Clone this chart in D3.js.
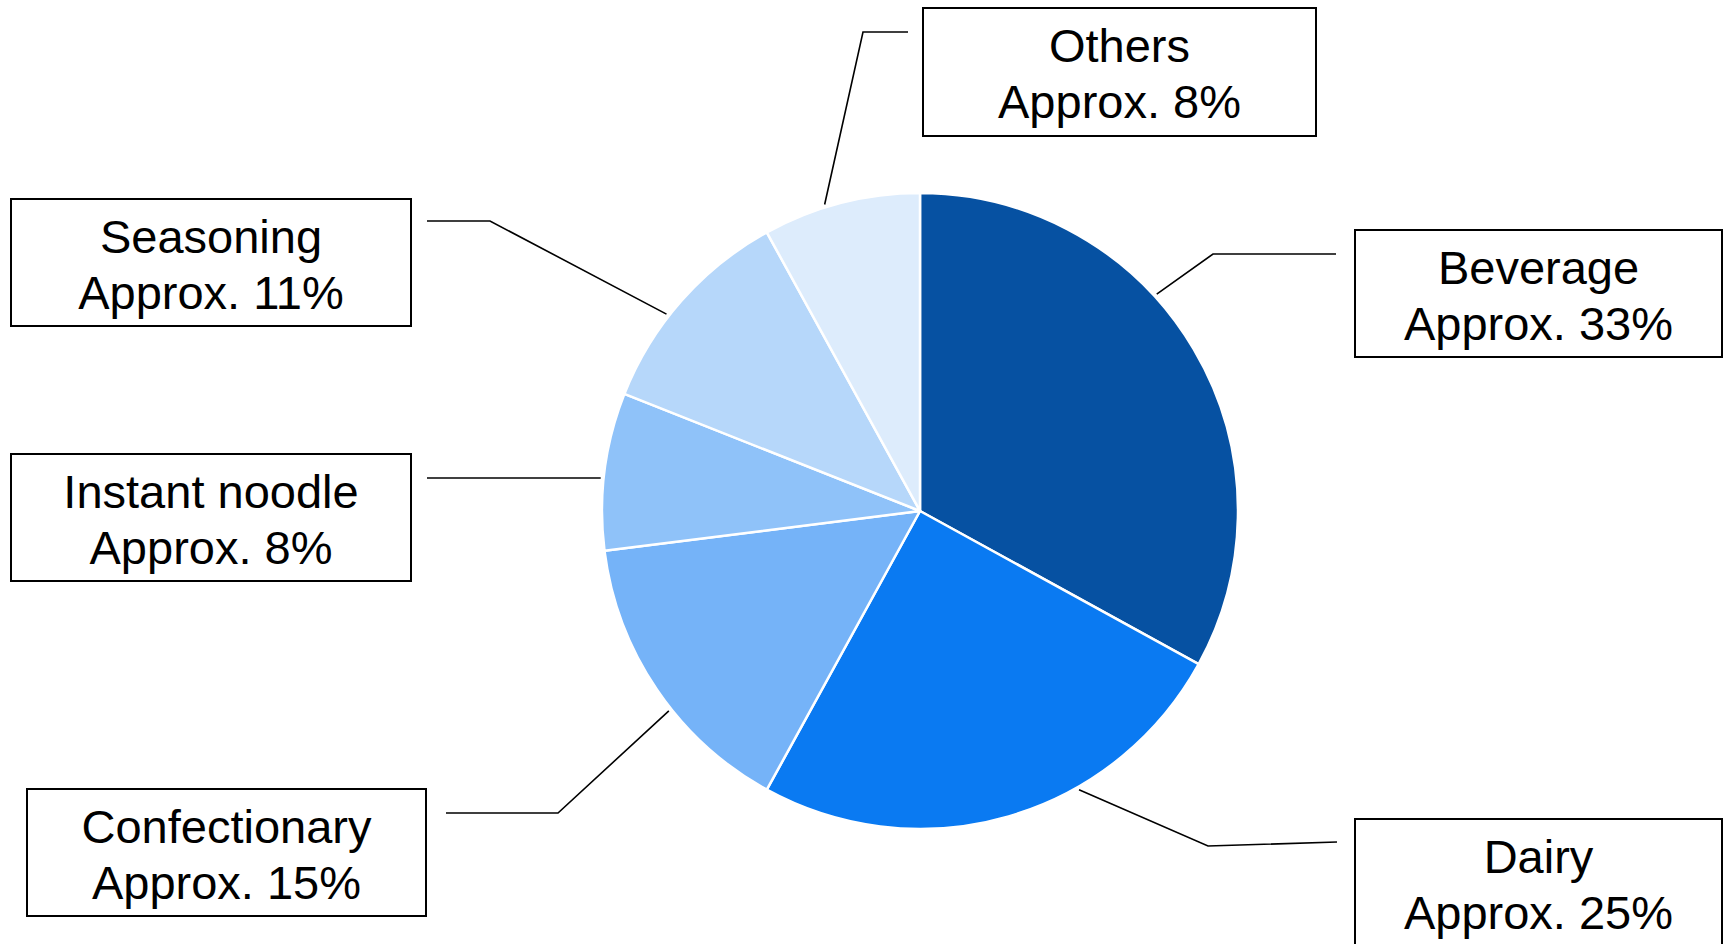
<!DOCTYPE html>
<html>
<head>
<meta charset="utf-8">
<title>Sales composition by category</title>
<script src="https://cdn.jsdelivr.net/npm/d3@7"></script>
<style>
  html, body { margin: 0; padding: 0; background: #ffffff; overflow: hidden; }
  svg { display: block; }
  text { font-family: "Liberation Sans", Arial, sans-serif; }
</style>
</head>
<body>
<svg id="chart" width="1723" height="944"></svg>
<script>
// Category shares (percent), clockwise from 12 o'clock
const categories = ["Beverage", "Dairy", "Confectionary", "Instant noodle", "Seasoning", "Others"];
const shares = [33, 25, 15, 8, 11, 8];
const shareLabels = ["Approx. 33%", "Approx. 25%", "Approx. 15%", "Approx. 8%", "Approx. 11%", "Approx. 8%"];
const sliceColors = ["#0651a2", "#0a7af2", "#75b3f8", "#8fc2f9", "#b6d7fa", "#ddecfc"];

// Callout boxes: box rectangle, leader elbow and end, and where along the slice the leader attaches
const callouts = [
  { box: [1355, 230, 367, 127], elbow: [1213, 254], end: [1336, 254], along: 0.40 },
  { box: [1355, 819, 367, 140], elbow: [1208, 846], end: [1337, 842], along: 0.35 },
  { box: [27, 789, 399, 127],   elbow: [558, 813],  end: [446, 813],  along: 0.42 },
  { box: [11, 454, 400, 127],   elbow: null,        end: [427, 478],  along: 0.455 },
  { box: [11, 199, 400, 127],   elbow: [490, 221],  end: [427, 221],  along: 0.41 },
  { box: [923, 8, 393, 128],    elbow: [863, 32],   end: [908, 32],   along: 0.40 }
];

const cx = 920, cy = 511, radius = 318;
const svg = d3.select("#chart");

const data = categories.map((name, i) => ({ name, value: shares[i], label: shareLabels[i], i }));

const pie = d3.pie().value(d => d.value).sort(null).startAngle(0).endAngle(2 * Math.PI);
const arcs = pie(data);
const arc = d3.arc().innerRadius(0).outerRadius(radius);
const color = d3.scaleOrdinal().domain(categories).range(sliceColors);

const g = svg.append("g").attr("transform", `translate(${cx},${cy})`);
g.selectAll("path.slice")
  .data(arcs)
  .join("path")
  .attr("class", "slice")
  .attr("d", arc)
  .attr("fill", d => color(d.data.name))
  .attr("stroke", "#ffffff")
  .attr("stroke-width", 2.5)
  .attr("stroke-linejoin", "round");

// Leader lines from the slice edge to each callout box
const anchorR = radius + 3;
const leaders = svg.append("g");
arcs.forEach((a, i) => {
  const c = callouts[i];
  const ang = a.startAngle + (a.endAngle - a.startAngle) * c.along;
  const p0 = [cx + anchorR * Math.sin(ang), cy - anchorR * Math.cos(ang)];
  const pts = c.elbow ? [p0, c.elbow, c.end] : [[p0[0], c.end[1]], c.end];
  leaders.append("path")
    .attr("d", d3.line()(pts))
    .attr("fill", "none")
    .attr("stroke", "#000000")
    .attr("stroke-width", 1.6);
});

// Callout boxes with category name and share
const boxes = svg.append("g");
arcs.forEach((a, i) => {
  const [bx, by, bw, bh] = callouts[i].box;
  const grp = boxes.append("g");
  grp.append("rect")
    .attr("x", bx).attr("y", by).attr("width", bw).attr("height", bh)
    .attr("fill", "#ffffff")
    .attr("stroke", "#000000")
    .attr("stroke-width", 2);
  const tx = bx + bw / 2;
  grp.append("text")
    .attr("x", tx).attr("y", by + 54)
    .attr("text-anchor", "middle")
    .attr("font-size", 47)
    .attr("fill", "#000000")
    .text(a.data.name);
  grp.append("text")
    .attr("x", tx).attr("y", by + 110)
    .attr("text-anchor", "middle")
    .attr("font-size", 47)
    .attr("fill", "#000000")
    .text(a.data.label);
});
</script>
</body>
</html>
